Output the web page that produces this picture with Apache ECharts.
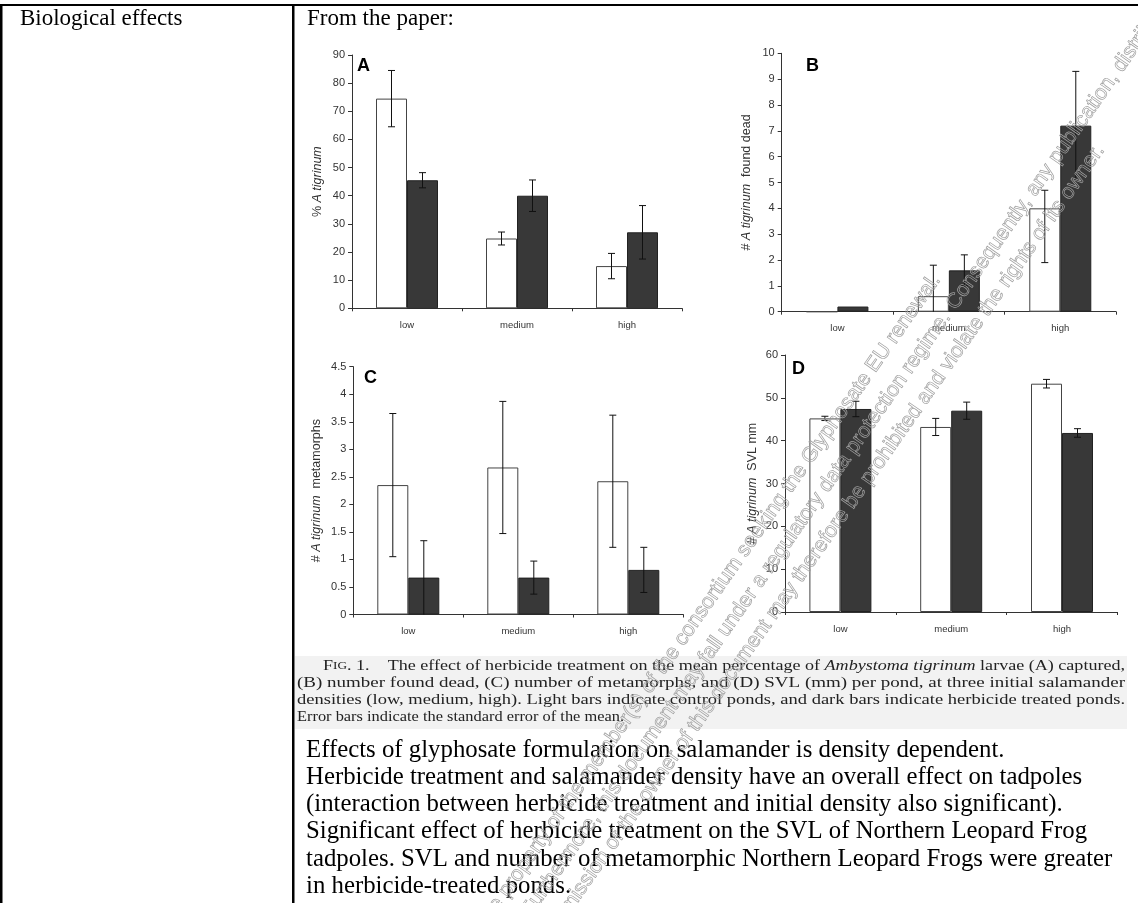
<!DOCTYPE html>
<html><head><meta charset="utf-8">
<script src="https://cdn.jsdelivr.net/npm/echarts@6/dist/echarts.min.js"></script>
<style>html,body{margin:0;padding:0;background:#fff;overflow:hidden}#c{width:1138px;height:903px}</style>
</head><body><div id="c"></div>
<script>
// ---------------- data ----------------
const categories = ['low', 'medium', 'high'];
// Panel A: % A. tigrinum captured
const aControl = [74.5, 24.8, 15.0];
const aControlErr = [10.0, 2.3, 4.5];
const aHerbicide = [45.5, 40.0, 27.0];
const aHerbicideErr = [2.7, 5.6, 9.5];
// Panel B: number found dead
const bControl = [0, 0.6, 4.0];
const bControlErrLow = [0, 1.2, 2.1];
const bControlErrHigh = [0, 1.2, 0.7];
const bHerbicide = [0.2, 1.6, 7.2];
const bHerbicideErr = [0, 0.6, 2.1];
// Panel C: number of metamorphs
const cControl = [2.35, 2.67, 2.42];
const cControlErr = [1.3, 1.2, 1.2];
const cHerbicide = [0.67, 0.67, 0.81];
const cHerbicideErr = [0.67, 0.3, 0.41];
// Panel D: SVL (mm)
const dControl = [45.2, 43.2, 53.3];
const dControlErr = [0.5, 2.0, 1.0];
const dHerbicide = [47.4, 47.0, 41.8];
const dHerbicideErr = [1.8, 2.0, 1.0];
// axes
const yMin = [0, 0, 0, 0];
const yMax = [90, 10, 4.5, 60];
const yInterval = [10, 1, 0.5, 10];
const panelLetters = ['A', 'B', 'C', 'D'];
const yNames = ['% {i|A tigrinum}', '# {i|A tigrinum}  found dead', '# {i|A tigrinum}  metamorphs', '# {i|A tigrinum}  SVL mm'];

// ---------------- text ----------------
const headLeft = 'Biological effects';
const headRight = 'From the paper:';
const captionLines = [
  '{sc1|F}{sc2|IG}{n|. 1.    The effect of herbicide treatment on the mean percentage of }{it|Ambystoma tigrinum}{n| larvae (A) captured,}',
  '(B) number found dead, (C) number of metamorphs, and (D) SVL (mm) per pond, at three initial salamander',
  'densities (low, medium, high). Light bars indicate control ponds, and dark bars indicate herbicide treated ponds.',
  'Error bars indicate the standard error of the mean.'
];
const bodyLines = [
  'Effects of glyphosate formulation on salamander is density dependent.',
  'Herbicide treatment and salamander density have an overall effect on tadpoles',
  '(interaction between herbicide treatment and initial density also significant).',
  'Significant effect of herbicide treatment on the SVL of Northern Leopard Frog',
  'tadpoles. SVL and number of metamorphic Northern Leopard Frogs were greater',
  'in herbicide-treated ponds.'
];
const watermark = [
  'This document is the property of the member(s) of the consortium seeking the Glyphosate EU renewal.',
  'It may be subject to rights such as intellectual property. Furthermore, this document may fall under a regulatory data protection regime.',
  'Consequently, any publication, distribution, reproduction',
  'and use of this document or its contents without the permission of the owner of this document may therefore be prohibited and violate',
  'the rights of its owner.'
];

// ---------------- layout ----------------
const grids = [
  {left: 352, top: 55, width: 330, height: 253.3},
  {left: 781.7, top: 53.3, width: 334.3, height: 258.4},
  {left: 353.3, top: 366.7, width: 330, height: 247.8},
  {left: 785, top: 355, width: 332.4, height: 257}
];
const letterPos = [[357, 66], [806, 66], [364, 378], [792, 369]];
const nameGaps = [28, 29, 30, 26];
const BAR_W = 31;

const chart = echarts.init(document.getElementById('c'), null, {renderer: 'canvas'});

function errorSeries(k, vals, lo, hi, side) {
  return {
    type: 'custom', xAxisIndex: k, yAxisIndex: k, z: 6, silent: true,
    data: vals.map((v, i) => [i, v, lo[i], hi[i]]),
    renderItem(params, api) {
      const i = api.value(0), v = api.value(1), l = api.value(2), h = api.value(3);
      if (!(l > 0 || h > 0)) return null;
      const c = api.coord([i, v]);
      const x = c[0] + side * BAR_W / 2;
      const yTop = api.coord([i, v + h])[1];
      const yBot = api.coord([i, Math.max(0, v - l)])[1];
      const st = {stroke: '#111', lineWidth: 1};
      const ch = [
        {type: 'line', shape: {x1: x, y1: yTop, x2: x, y2: yBot}, style: st},
        {type: 'line', shape: {x1: x - 3.5, y1: yTop, x2: x + 3.5, y2: yTop}, style: st}
      ];
      if (v - l > 0.01) ch.push({type: 'line', shape: {x1: x - 3.5, y1: yBot, x2: x + 3.5, y2: yBot}, style: st});
      return {type: 'group', children: ch};
    }
  };
}

const panels = [
  {c: aControl, cl: aControlErr, ch: aControlErr, h: aHerbicide, hl: aHerbicideErr, hh: aHerbicideErr},
  {c: bControl, cl: bControlErrLow, ch: bControlErrHigh, h: bHerbicide, hl: bHerbicideErr, hh: bHerbicideErr},
  {c: cControl, cl: cControlErr, ch: cControlErr, h: cHerbicide, hl: cHerbicideErr, hh: cHerbicideErr},
  {c: dControl, cl: dControlErr, ch: dControlErr, h: dHerbicide, hl: dHerbicideErr, hh: dHerbicideErr}
];

const axisCol = '#333';
const series = [];
panels.forEach((p, k) => {
  series.push({type: 'bar', xAxisIndex: k, yAxisIndex: k, data: p.c, barWidth: BAR_W, barGap: '0%',
    itemStyle: {color: '#fff', borderColor: '#444', borderWidth: 1}, silent: true});
  series.push({type: 'bar', xAxisIndex: k, yAxisIndex: k, data: p.h, barWidth: BAR_W, barGap: '0%',
    itemStyle: {color: '#383838', borderColor: '#222', borderWidth: 1}, silent: true});
  series.push(errorSeries(k, p.c, p.cl, p.ch, -1));
  series.push(errorSeries(k, p.h, p.hl, p.hh, 1));
});

// text measuring
const mctx = document.createElement('canvas').getContext('2d');
function tw(text, font) { mctx.font = font; return mctx.measureText(text).width; }

const SERIF = '"Liberation Serif", "Times New Roman", serif';
const SANS = '"Liberation Sans", Arial, sans-serif';
const graphic = [];
function txt(x, y, text, font, extra) {
  return Object.assign({type: 'text', x: x, y: y, z: 50,
    style: {text: text, font: font, fill: '#000', align: 'left', verticalAlign: 'middle', textAlign: 'left', textVerticalAlign: 'middle'}}, extra || {});
}
// table borders
graphic.push({type: 'rect', shape: {x: 0, y: 4, width: 1138, height: 2}, style: {fill: '#000'}, z: 40});
graphic.push({type: 'rect', shape: {x: 0, y: 4, width: 2.5, height: 900}, style: {fill: '#000'}, z: 40});
graphic.push({type: 'rect', shape: {x: 292, y: 4, width: 2.5, height: 900}, style: {fill: '#000'}, z: 40});
// caption background
graphic.push({type: 'rect', shape: {x: 295, y: 656, width: 832, height: 73}, style: {fill: '#f2f2f2'}, z: 1});

const HEAD_SIZE = 23;
graphic.push(txt(20, 18.5, headLeft, HEAD_SIZE + 'px ' + SERIF));
graphic.push(txt(307, 18.5, headRight, HEAD_SIZE + 'px ' + SERIF));

// panel letters
panelLetters.forEach((L, k) => {
  graphic.push(txt(letterPos[k][0], letterPos[k][1], L, 'bold 18px ' + SANS, {z: 20}));
});

// caption
const CAP = 15;
const capFont = CAP + 'px ' + SERIF;
const capItFont = 'italic ' + CAP + 'px ' + SERIF;
const capSmall = '11px ' + SERIF;
const capX = [323, 297, 297, 297];
const capY = [666, 683, 700, 717];
const capRight = 1125;
const line1W = tw('F', capFont) + tw('IG', capSmall) + tw('. 1.    The effect of herbicide treatment on the mean percentage of ', capFont)
  + tw('Ambystoma tigrinum', capItFont) + tw(' larvae (A) captured,', capFont);
const capWidths = [line1W, tw(captionLines[1], capFont), tw(captionLines[2], capFont), tw(captionLines[3], capFont)];
const capTargets = [capRight - capX[0], capRight - capX[1], capRight - capX[2], 327];
captionLines.forEach((line, k) => {
  graphic.push({type: 'text', x: capX[k], y: capY[k], z: 30, scaleX: capTargets[k] / capWidths[k],
    style: {text: line, font: capFont, fill: '#222', align: 'left', verticalAlign: 'middle', textAlign: 'left', textVerticalAlign: 'middle',
      rich: {
        n: {font: capFont, fill: '#222'},
        it: {font: capItFont, fill: '#222'},
        sc1: {font: capFont, fill: '#222'},
        sc2: {font: capSmall, fill: '#222'}
      }}});
});

// body text
const BODY = 24.8;
bodyLines.forEach((line, k) => {
  graphic.push(txt(306, 750 + k * 27.3, line, BODY + 'px ' + SERIF, {z: 30}));
});

// watermark
const TH = 55 * Math.PI / 180;
const u = [Math.cos(TH), -Math.sin(TH)], n = [Math.sin(TH), Math.cos(TH)];
const E2 = [955, 320];
const S = 30;
function pt(base, a, b) { return [base[0] + a * u[0] + b * n[0], base[1] + a * u[1] + b * n[1]]; }
const wmDefs = [
  {t: watermark[0], p: pt(E2, 25, -S), al: 'right'},
  {t: watermark[1], p: pt(E2, 0, 0), al: 'right'},
  {t: watermark[2], p: pt(E2, 8, 0), al: 'left'},
  {t: watermark[3], p: pt(E2, 15, S), al: 'right'},
  {t: watermark[4], p: pt(E2, 21, S), al: 'left'}
];
wmDefs.forEach(d => {
  graphic.push({type: 'text', x: d.p[0], y: d.p[1], rotation: TH, z: 100, silent: true,
    style: {text: d.t, font: '21px ' + SANS, fill: 'rgba(255,255,255,0)', stroke: '#a0a0a0', lineWidth: 0.7,
      align: d.al, textAlign: d.al, verticalAlign: 'bottom', textVerticalAlign: 'bottom'}});
});

const option = {
  animation: false,
  backgroundColor: '#fff',
  grid: grids.map(g => Object.assign({containLabel: false}, g)),
  xAxis: grids.map((g, k) => ({
    type: 'category', gridIndex: k, data: categories,
    axisLine: {lineStyle: {color: axisCol, width: 1}},
    axisTick: {show: true, length: 3, interval: 0, lineStyle: {color: axisCol}},
    axisLabel: {fontSize: 9.5, color: '#333', margin: 12, fontFamily: SANS}
  })),
  yAxis: grids.map((g, k) => ({
    type: 'value', gridIndex: k, min: yMin[k], max: yMax[k], interval: yInterval[k],
    name: yNames[k], nameLocation: 'middle', nameRotate: 90, nameGap: nameGaps[k],
    nameTextStyle: {fontSize: 12.5, color: '#333', fontFamily: SANS, rich: {i: {fontStyle: 'italic', fontSize: 12.5, color: '#333', fontFamily: SANS}}},
    axisLine: {show: true, lineStyle: {color: axisCol, width: 1}},
    axisTick: {show: true, length: 4, lineStyle: {color: axisCol}},
    splitLine: {show: false},
    axisLabel: {fontSize: 11, color: '#333', margin: 7, fontFamily: SANS}
  })),
  series: series,
  graphic: graphic
};
chart.setOption(option);
</script>
</body></html>
